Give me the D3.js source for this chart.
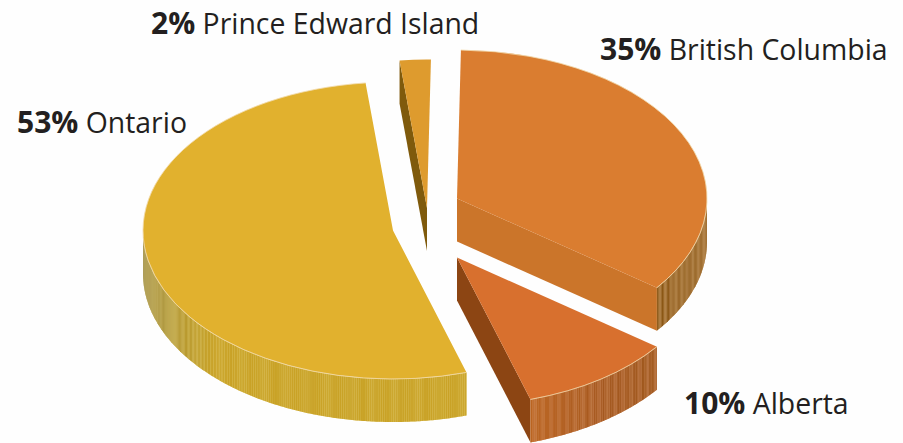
<!DOCTYPE html>
<html>
<head>
<meta charset="utf-8">
<script src="https://cdn.jsdelivr.net/npm/d3@7/dist/d3.min.js"></script>
<style>
  html, body { margin: 0; padding: 0; background: #fefefe; }
  svg { display: block; }
  text { font-family: "Open Sans", "Noto Sans", sans-serif; fill: #231f20; }
</style>
</head>
<body>
<svg id="chart" width="903" height="443"></svg>
<script>
// Share of the total by province
const provinces = ["British Columbia", "Alberta", "Ontario", "Prince Edward Island"];
const shares = [35, 10, 53, 2];

// Ellipse of the tilted disc and the height of its rim
const radiusX = 250;
const radiusY = 148.5;
const rimDepth = 43;
const firstAngle = 0.9 * Math.PI / 180;
const facetStep = 0.5 * Math.PI / 180;

// Per-slice styling, in province order: where the exploded tip sits and how each face is shaded.
// ripple = [period in px, strength] of the soft banding across the rim.
const sliceStyles = [
  { tip: [457, 198.5], top: "#da7d30", cut: "#cb752a", cutEdge: "end", seam: "#e0b888",
    rimAngles: [90, 127], rimColors: ["#85510f", "#8a5614"], ripple: [5.5, 0.3] },
  { tip: [457, 257.5], top: "#d8702e", cut: "#8c4513", cutEdge: "end", seam: "#d89a70",
    rimAngles: [127, 145, 163], rimColors: ["#9c5419", "#a5581f", "#bb6420"], ripple: [8, 0.32] },
  { tip: [393, 230.5], top: "#e1b12e", cut: null, cutEdge: null, seam: "#ecdc90",
    rimAngles: [163, 225, 245, 270], rimColors: ["#c9a226", "#c9a226", "#ab9338", "#8f7f45"], ripple: [22, 0.1] },
  { tip: [427, 208], top: "#de9b2e", cut: "#7f5a0c", cutEdge: "start", seam: null,
    rimAngles: [], rimColors: [], ripple: null }
];

// Label anchors and text sizing
const labelPositions = [[600, 60], [684, 414], [17, 133], [151, 34]];
const nameSize = 28.4;
const shareSize = 30;

const svg = d3.select("#chart");

const pie = d3.pie().sort(null)
  .startAngle(firstAngle)
  .endAngle(firstAngle + 2 * Math.PI);
const arcs = pie(shares);

// The disc is drawn as a circle of radius radiusX and squashed vertically
const arcPath = d3.arc().innerRadius(0).outerRadius(radiusX);
const rimEdge = d3.arc().innerRadius(radiusX).outerRadius(radiusX);

const pointAt = (style, angle, drop) => [
  style.tip[0] + radiusX * Math.sin(angle),
  style.tip[1] - radiusY * Math.cos(angle) + drop
];

const polyLine = d3.line();

// Back to front: PEI, Ontario, British Columbia, Alberta
[3, 2, 0, 1].forEach(i => {
  const arc = arcs[i];
  const style = sliceStyles[i];
  const g = svg.append("g").attr("class", "slice");

  // Flat face exposed by pulling the slice out of the disc
  if (style.cutEdge) {
    const edgeAngle = style.cutEdge === "end" ? arc.endAngle : arc.startAngle;
    const rim = pointAt(style, edgeAngle, 0);
    const rimLow = pointAt(style, edgeAngle, rimDepth);
    const tip = style.tip;
    g.append("path")
      .attr("d", polyLine([tip, rim, rimLow, [tip[0], tip[1] + rimDepth]]) + "Z")
      .attr("fill", style.cut);
  }

  // Outer rim: narrow vertical facets, only where the rim faces the viewer.
  // A pale underlay shows through the anti-aliased joins between facets.
  if (style.rimAngles.length) {
    const shade = d3.scaleLinear()
      .domain(style.rimAngles)
      .range(style.rimColors)
      .interpolate(d3.interpolateRgb);
    const from = Math.max(arc.startAngle, Math.PI / 2);
    const to = Math.min(arc.endAngle, 3 * Math.PI / 2);
    const facets = d3.range(from, to, facetStep);
    const band = a => {
      const b = Math.min(a + facetStep, to);
      return polyLine([
        pointAt(style, a, 0), pointAt(style, b, 0),
        pointAt(style, b, rimDepth), pointAt(style, a, rimDepth)
      ]) + "Z";
    };
    const [ripplePeriod, rippleStrength] = style.ripple;
    const facetColor = a => {
      const x = pointAt(style, a, 0)[0];
      const mix = rippleStrength * (0.5 + 0.5 * Math.cos(2 * Math.PI * x / ripplePeriod));
      return d3.interpolateRgb(shade(a * 180 / Math.PI), style.seam)(mix);
    };
    g.append("path")
      .attr("d", facets.map(band).join(""))
      .attr("fill", style.seam);
    g.append("g").selectAll("path").data(facets).join("path")
      .attr("d", band)
      .attr("fill", facetColor);
  }

  // Top face
  const squash = `translate(${style.tip[0]},${style.tip[1]}) scale(1,${radiusY / radiusX})`;
  g.append("path")
    .attr("transform", squash)
    .attr("d", arcPath(arc))
    .attr("fill", style.top);
  if (style.rimAngles.length) {
    g.append("path")
      .attr("transform", squash)
      .attr("d", rimEdge(arc))
      .attr("fill", "none")
      .attr("stroke", "#f3dcb0")
      .attr("stroke-width", 0.5)
      .attr("vector-effect", "non-scaling-stroke");
  }
});

// Labels: bold share followed by the province name
const labels = svg.append("g").selectAll("text").data(provinces).join("text")
  .attr("x", (d, i) => labelPositions[i][0])
  .attr("y", (d, i) => labelPositions[i][1])
  .attr("font-size", nameSize);
labels.append("tspan").attr("font-weight", 700).attr("font-size", shareSize).text((d, i) => shares[i] + "%");
labels.append("tspan").text(d => " " + d);
</script>
</body>
</html>
